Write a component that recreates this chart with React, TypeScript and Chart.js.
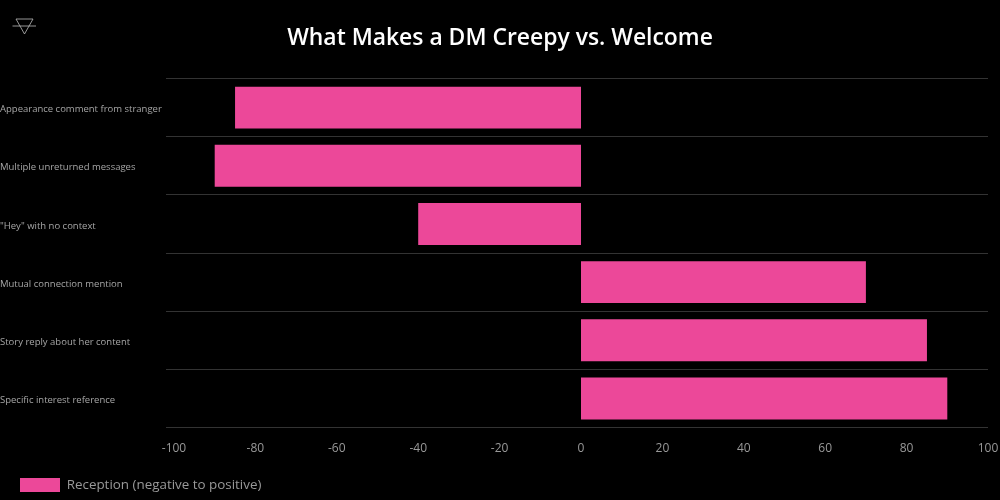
import { useEffect, useRef } from "react"
import { Chart, registerables, type ChartConfiguration } from "chart.js"

Chart.register(...registerables)

const categories = [
  "Appearance comment from stranger",
  "Multiple unreturned messages",
  '"Hey" with no context',
  "Mutual connection mention",
  "Story reply about her content",
  "Specific interest reference",
]
const reception = [-85, -90, -40, 70, 85, 90]

const FONT = "'Open Sans', 'Noto Sans', sans-serif"
const PINK = "#ec4899"
const GRID = "#333333"
const TEXT = "#999999"

export default function App() {
  const canvasRef = useRef<HTMLCanvasElement>(null)

  useEffect(() => {
    if (!canvasRef.current) return
    document.body.style.margin = "0"
    document.body.style.background = "#000"

    const cfg: ChartConfiguration = {
      type: "bar",
      data: {
        labels: categories,
        datasets: [
          { label: "Reception (negative to positive)", data: reception, backgroundColor: PINK, borderWidth: 0 },
        ],
      },
      options: {
        indexAxis: "y",
        responsive: false,
        animation: false,
        layout: { padding: { bottom: -2 } },
        plugins: {
          title: {
            display: true,
            text: "What Makes a DM Creepy vs. Welcome",
            color: "#ffffff",
            font: { family: FONT, size: 22.9, weight: 600 },
            padding: { top: 25, bottom: 26 },
          },
          legend: {
            display: true,
            position: "bottom",
            align: "start",
            labels: {
              boxWidth: 40,
              boxHeight: 14,
              padding: 20,
              color: TEXT,
              font: { family: FONT, size: 13.4 },
            },
          },
          tooltip: { enabled: false },
        },
        scales: {
          x: {
            min: -100,
            max: 100,
            grid: { display: false },
            border: { display: false },
            afterFit: (scale: any) => {
              scale.paddingRight = 12
              scale.height -= 4
            },
            ticks: { stepSize: 20, padding: 6, color: TEXT, maxRotation: 0, font: { family: FONT, size: 12 } },
          },
          y: {
            grid: { color: GRID, lineWidth: 1, tickLength: 8 },
            border: { display: false },
            afterFit: (scale: any) => { scale.width = 174 },
            ticks: {
              crossAlign: "far",
              color: "#a6a6a6",
              autoSkip: false,
              // blank first line with a 4px line height nudges the label down 2px
              callback: (_v: any, i: number) => ["", categories[i]],
              font: { family: FONT, size: 9.5, lineHeight: "4px" },
            },
          },
        },
      },
    }
    const chart = new Chart(canvasRef.current, cfg)
    return () => { chart.destroy() }
  }, [])

  return (
    <div style={{ position: "relative", width: 1000, height: 500, background: "#000" }}>
      <canvas ref={canvasRef} width={1000} height={500} style={{ display: "block" }} />
      <svg width="26" height="20" viewBox="0 0 26 20" style={{ position: "absolute", left: 11, top: 17 }} fill="none" stroke="#bbbbbb" strokeWidth="0.8">
        <path d="M5 2 H22 L13.5 17 Z" />
        <path d="M1.5 9 H25" />
      </svg>
    </div>
  )
}
